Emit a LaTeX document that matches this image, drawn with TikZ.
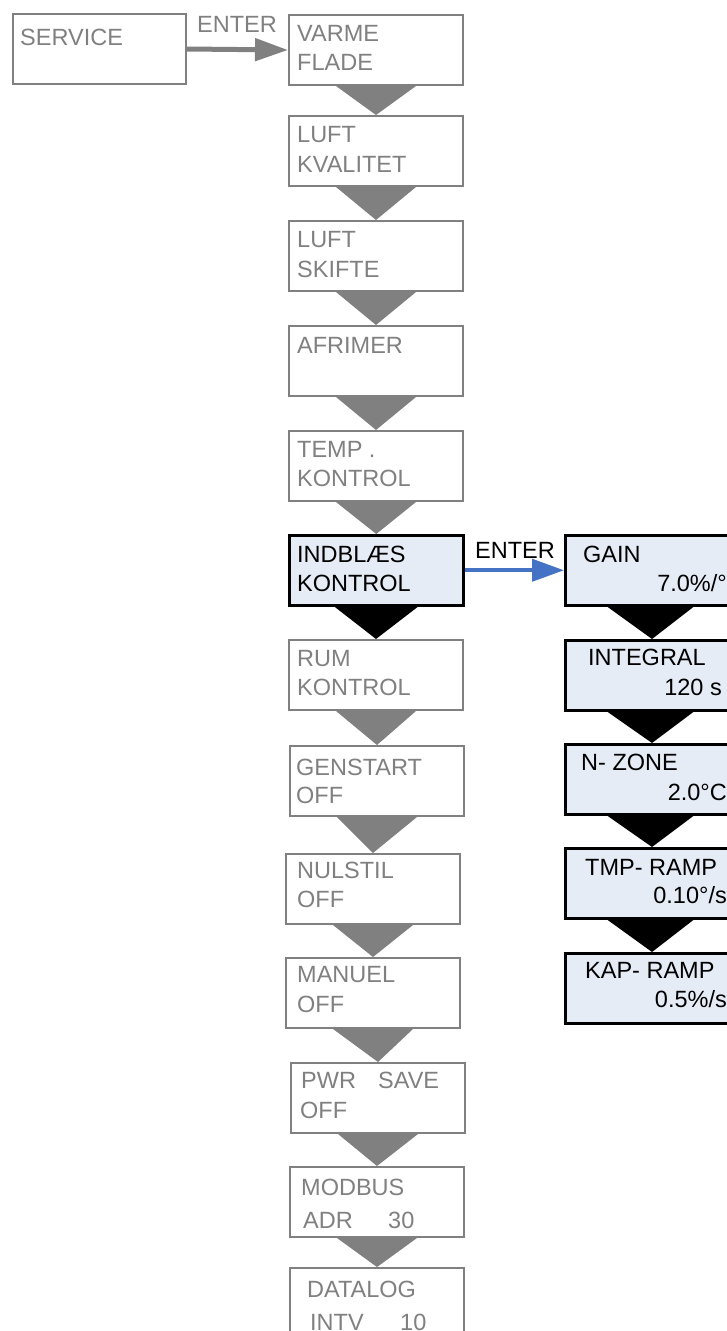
\documentclass[tikz,border=0pt]{standalone}
\usepackage{fontspec}
\setmainfont{Liberation Sans}
\usetikzlibrary{calc,arrows.meta}
\definecolor{dgray}{HTML}{808080}
\definecolor{boxblue}{HTML}{E6ECF6}
\definecolor{arrowblue}{HTML}{4472C4}
\tikzset{
  gbox/.style={draw=dgray, line width=2pt, fill=white, rectangle, inner sep=0,
    minimum width=174pt, minimum height=70pt, anchor=north west},
  bbox/.style={draw=black, line width=2.5pt, fill=boxblue, rectangle, inner sep=0,
    minimum width=174pt, minimum height=70pt, anchor=north west},
  rbox/.style={bbox, minimum width=200pt},
  gt/.style={anchor=base west, inner sep=0, text=dgray, font=\fontsize{23.5}{28}\selectfont},
  bt/.style={gt, text=black},
  btr/.style={bt, anchor=base east},
  gtri/.style={fill=dgray},
  btri/.style={fill=black},
  garrow/.style={draw=dgray, line width=5pt, -{Triangle[length=33pt,width=22pt]}},
  barrow/.style={draw=arrowblue, line width=4pt, -{Triangle[length=32pt,width=22pt]}}
}
\begin{document}
\begin{tikzpicture}[x=1pt,y=-1pt]
\useasboundingbox (0,0) rectangle (727,1331);
\clip (0,0) rectangle (727,1331);

% left column boxes
\node[gbox, minimum width=173pt] (service) at (12,13) {};
\node[gbox] (varme)  at (288,14) {};
\node[gbox] (luftk)  at (288,115) {};
\node[gbox] (lufts)  at (288,220) {};
\node[gbox] (afrim)  at (288,325) {};
\node[gbox] (temp)   at (288,430) {};
\node[bbox] (indbl)  at (288,534) {};
\node[gbox] (rum)    at (288,639) {};
\node[gbox] (genst)  at (289,745) {};
\node[gbox] (nulst)  at (285,853) {};
\node[gbox] (manuel) at (285,957) {};
\node[gbox] (pwr)    at (290,1062) {};
\node[gbox] (modbus) at (289,1166) {};
\node[gbox] (datalog) at (289,1267) {};

% right column boxes
\node[rbox] (gain)  at (564,534) {};
\node[rbox] (integ) at (564,639) {};
\node[rbox] (nzone) at (564,743) {};
\node[rbox] (tmpr)  at (564,847) {};
\node[rbox] (kapr)  at (564,952) {};

% triangles left column
\foreach \a/\b in {varme/luftk, luftk/lufts, lufts/afrim, afrim/temp, temp/indbl,
                   rum/genst, genst/nulst, nulst/manuel, manuel/pwr, pwr/modbus, modbus/datalog}{
  \fill[gtri] ($(\a.south)+(-40,0)$) -- ($(\a.south)+(40,0)$) -- (\b.north) -- cycle;
}
\fill[btri] ($(indbl.south)+(-42,0)$) -- ($(indbl.south)+(42,0)$) -- (rum.north) -- cycle;

% triangles right column
\foreach \a/\b in {gain/integ, integ/nzone, nzone/tmpr, tmpr/kapr}{
  \fill[btri] ($(\a.south west)+(43,0)$) -- ($(\a.south west)+(130,0)$) -- ($(\b.north west)+(88,0)$) -- cycle;
}

% arrows
\draw[garrow] (service.east) -- (varme.west);
\node[gt] (enter1) at (197,32) {ENTER};
\draw[barrow] (indbl.east) -- (gain.west);
\node[bt] (enter2) at (475,558) {ENTER};

% texts left column
\node[gt] (t-service) at ($(service.north west)+(8,32)$) {SERVICE};
\node[gt] (t-varme1) at ($(varme.north west)+(9,27)$) {VARME};
\node[gt] (t-varme2) at ($(varme.north west)+(9,56)$) {FLADE};
\node[gt] (t-luftk1) at ($(luftk.north west)+(9,27)$) {LUFT};
\node[gt] (t-luftk2) at ($(luftk.north west)+(9,57)$) {KVALITET};
\node[gt] (t-lufts1) at ($(lufts.north west)+(9,27)$) {LUFT};
\node[gt] (t-lufts2) at ($(lufts.north west)+(9,57)$) {SKIFTE};
\node[gt] (t-afrim) at ($(afrim.north west)+(9,28)$) {AFRIMER};
\node[gt] (t-temp1) at ($(temp.north west)+(9,27)$) {TEMP .};
\node[gt] (t-temp2) at ($(temp.north west)+(9,56)$) {KONTROL};
\node[bt] (t-indbl1) at ($(indbl.north west)+(9,28)$) {INDBLÆS};
\node[bt] (t-indbl2) at ($(indbl.north west)+(9,57)$) {KONTROL};
\node[gt] (t-rum1) at ($(rum.north west)+(9,27)$) {RUM};
\node[gt] (t-rum2) at ($(rum.north west)+(9,56)$) {KONTROL};
\node[gt] (t-genst1) at ($(genst.north west)+(7,30)$) {GENSTART};
\node[gt] (t-genst2) at ($(genst.north west)+(7,58)$) {OFF};
\node[gt] (t-nulst1) at ($(nulst.north west)+(12,25)$) {NULSTIL};
\node[gt] (t-nulst2) at ($(nulst.north west)+(12,54)$) {OFF};
\node[gt] (t-manuel1) at ($(manuel.north west)+(12,25)$) {MANUEL};
\node[gt] (t-manuel2) at ($(manuel.north west)+(12,55)$) {OFF};
\node[gt] (t-pwr1) at ($(pwr.north west)+(11,26)$) {PWR};
\node[gt] (t-pwr2) at ($(pwr.north west)+(88,26)$) {SAVE};
\node[gt] (t-pwr3) at ($(pwr.north west)+(10,56)$) {OFF};
\node[gt] (t-modbus1) at ($(modbus.north west)+(12,29)$) {MODBUS};
\node[gt] (t-modbus2) at ($(modbus.north west)+(14,62)$) {ADR};
\node[gt] (t-modbus3) at ($(modbus.north west)+(99,62)$) {30};
\node[gt] (t-datalog1) at ($(datalog.north west)+(18,30)$) {DATALOG};
\node[gt] (t-datalog2) at ($(datalog.north west)+(21,63)$) {INTV};
\node[gt] (t-datalog3) at ($(datalog.north west)+(111,63)$) {10};

% texts right column
\node[bt] (t-gain1) at ($(gain.north west)+(19,28)$) {GAIN};
\node[btr] (t-gain2) at (727,591) {7.0\%/°};
\node[bt] (t-integ1) at ($(integ.north west)+(24,26)$) {INTEGRAL};
\node[btr] (t-integ2) at (722,695) {120 s};
\node[bt] (t-nzone1) at ($(nzone.north west)+(17,27)$) {N- ZONE};
\node[btr] (t-nzone2) at (727,800) {2.0°C};
\node[bt] (t-tmpr1) at ($(tmpr.north west)+(21,28)$) {TMP- RAMP};
\node[btr] (t-tmpr2) at (727,903) {0.10°/s};
\node[bt] (t-kapr1) at ($(kapr.north west)+(21,26)$) {KAP- RAMP};
\node[btr] (t-kapr2) at (727,1007) {0.5\%/s};
\end{tikzpicture}
\end{document}
